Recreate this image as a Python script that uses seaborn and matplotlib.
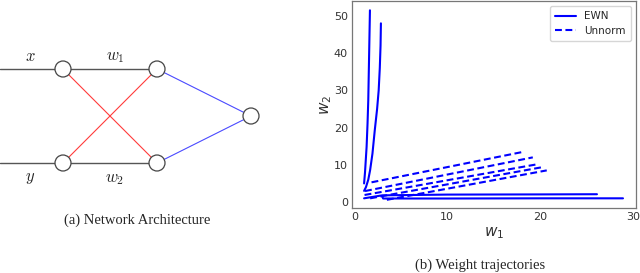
import numpy as np
import pandas as pd
import matplotlib
matplotlib.use("Agg")
import matplotlib.pyplot as plt
from matplotlib.patches import Circle
import seaborn as sns

# EWN trajectories (w1, w2)
ewn_a_w1 = [1.05, 1.15, 1.25, 1.32, 1.42, 1.5, 1.58, 1.68]
ewn_a_w2 = [5.0, 8.0, 12.0, 14.8, 21.0, 27.3, 38.0, 51.5]
ewn_b_w1 = [1.05, 1.25, 1.5, 1.7, 1.95, 2.2, 2.45, 2.62, 2.74, 2.82, 2.86]
ewn_b_w2 = [3.0, 4.0, 6.0, 8.6, 13.0, 19.3, 25.0, 30.0, 36.0, 42.0, 48.0]
ewn_c_w1 = [1.05, 3.0, 10.0, 20.0, 26.1]
ewn_c_w2 = [1.0, 1.8, 2.0, 2.05, 2.1]
ewn_d_w1 = [3.0, 3.1, 10.0, 20.0, 28.9]
ewn_d_w2 = [1.5, 0.95, 0.95, 1.0, 1.0]

# Unnormalised trajectories (straight lines)
unn_1_w1 = [1.85, 18.2]
unn_1_w2 = [5.3, 13.5]
unn_2_w1 = [1.15, 19.2]
unn_2_w2 = [2.95, 12.0]
unn_3_w1 = [1.1, 19.8]
unn_3_w2 = [1.9, 10.2]
unn_4_w1 = [1.7, 20.3]
unn_4_w2 = [1.0, 9.4]
unn_5_w1 = [3.5, 20.7]
unn_5_w2 = [0.6, 8.5]

trajs = [
    ("EWN", ewn_a_w1, ewn_a_w2), ("EWN", ewn_b_w1, ewn_b_w2),
    ("EWN", ewn_c_w1, ewn_c_w2), ("EWN", ewn_d_w1, ewn_d_w2),
    ("Unnorm", unn_1_w1, unn_1_w2), ("Unnorm", unn_2_w1, unn_2_w2),
    ("Unnorm", unn_3_w1, unn_3_w2), ("Unnorm", unn_4_w1, unn_4_w2),
    ("Unnorm", unn_5_w1, unn_5_w2),
]

rows = []
for k, (method, xs, ys) in enumerate(trajs):
    for a, b in zip(xs, ys):
        rows.append({"w1": a, "w2": b, "traj": k, "method": method})
df = pd.DataFrame(rows)

sns.set_theme(style="white")
plt.rcParams["font.family"] = ["DejaVu Sans"]
plt.rcParams["mathtext.fontset"] = "dejavusans"

fig = plt.figure(figsize=(6.4, 2.73), dpi=100)

# ---- (a) network diagram, drawn in pixel coordinates
axd = fig.add_axes([0, 0, 0.5, 1])
axd.set_xlim(0, 320)
axd.set_ylim(273, 0)
axd.axis("off")

nodes = {"x": (63, 69), "y": (63, 163), "h1": (157, 69), "h2": (157, 163), "o": (251, 116)}
r = 8

def edge(a, b, color, lw):
    (x0, y0), (x1, y1) = nodes[a], nodes[b]
    d = np.hypot(x1 - x0, y1 - y0)
    ux, uy = (x1 - x0) / d, (y1 - y0) / d
    axd.plot([x0 + ux * r, x1 - ux * r], [y0 + uy * r, y1 - uy * r], color=color, lw=lw, zorder=1)

axd.plot([0, 63 - r], [69, 69], color="#555555", lw=1.0)
axd.plot([0, 63 - r], [163, 163], color="#555555", lw=1.0)
edge("x", "h1", "#555555", 1.0)
edge("y", "h2", "#555555", 1.0)
edge("x", "h2", "#ff3b3b", 0.8)
edge("y", "h1", "#ff3b3b", 0.8)
edge("h1", "o", "#4a4aff", 0.8)
edge("h2", "o", "#4a4aff", 0.8)
for (cx, cy) in nodes.values():
    axd.add_patch(Circle((cx, cy), r, facecolor="white", edgecolor="#444444", lw=0.9, zorder=3))

cm = {"fontsize": 12, "ha": "center", "va": "center", "math_fontfamily": "cm"}
axd.text(30, 56, r"$x$", **cm)
axd.text(115, 56, r"$w_1$", **cm)
axd.text(30, 177, r"$y$", **cm)
axd.text(115, 178, r"$w_2$", **cm)

fig.text(137 / 640, 1 - 220 / 273, "(a) Network Architecture", ha="center", va="center",
         fontsize=10.5, family="Liberation Serif")
fig.text(480 / 640, 1 - 265 / 273, "(b) Weight trajectories", ha="center", va="center",
         fontsize=10.5, family="Liberation Serif")

# ---- (b) weight trajectories
ax = fig.add_axes([352 / 640, 1 - 208 / 273, 284 / 640, 207 / 273])
sns.lineplot(data=df, x="w1", y="w2", units="traj", style="method", estimator=None,
             sort=False, color="blue", lw=1.5, ax=ax,
             dashes={"EWN": "", "Unnorm": (3.3, 1.7)}, style_order=["EWN", "Unnorm"])
ax.set_xlim(-0.25, 30.3)
ax.set_ylim(-1.6, 54)
ax.set_xticks([0, 10, 20, 30])
ax.set_yticks([0, 10, 20, 30, 40, 50])
ax.tick_params(labelsize=8, colors="#333333", length=0, pad=3)
ax.set_xlabel(r"$w_1$", fontsize=11, color="#333333", labelpad=2)
ax.set_ylabel(r"$w_2$", fontsize=11, color="#333333", labelpad=0)
for s in ax.spines.values():
    s.set_color("#777777")
    s.set_linewidth(0.9)

handles, labels = ax.get_legend_handles_labels()
keep = [(h, l) for h, l in zip(handles, labels) if l in ("EWN", "Unnorm")]
ax.legend([h for h, _ in keep], [l for _, l in keep], loc="upper right", fontsize=7.5,
          frameon=True, handlelength=2.0, borderpad=0.5, labelspacing=0.4)

fig.savefig("out.png", dpi=100)
